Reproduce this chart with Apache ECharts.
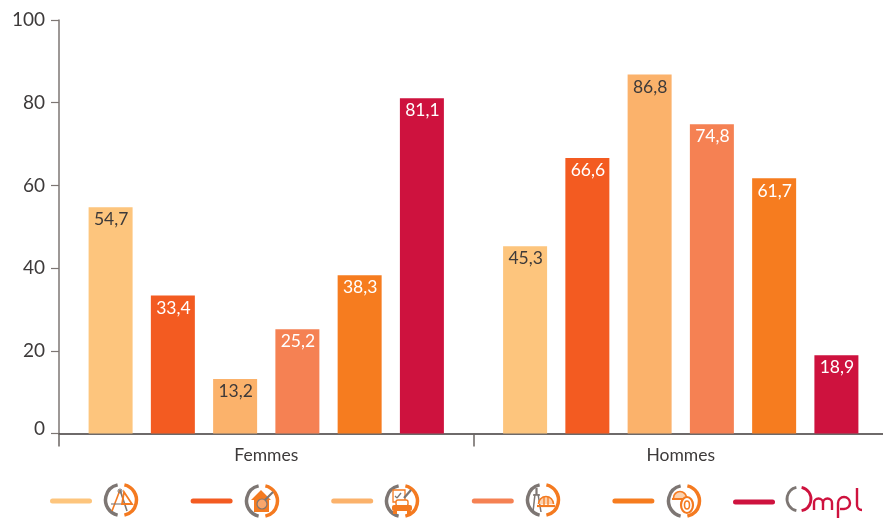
<!DOCTYPE html>
<html><head><meta charset="utf-8">
<style>html,body{margin:0;padding:0;background:#fff}#c{width:883px;height:519px}</style>
<script src="https://cdn.jsdelivr.net/npm/echarts@6/dist/echarts.min.js"></script>
</head><body><div id="c"></div>
<script>
const categories = ['Femmes', 'Hommes'];
const seriesNames = ['Cadres et ingénieurs', 'Banque et assurance', 'Commerce et automobile', 'Énergie et BTP', 'Industrie', 'OMPL'];
const s1 = [54.7, 45.3];
const s2 = [33.4, 66.6];
const s3 = [13.2, 86.8];
const s4 = [25.2, 74.8];
const s5 = [38.3, 61.7];
const s6 = [81.1, 18.9];
const allValues = [s1, s2, s3, s4, s5, s6];
const colors = ['#FDC57D', '#F35B21', '#FBB26B', '#F58153', '#F67C1F', '#CE123E'];
const labelColors = [['#3d3a3a', '#3d3a3a'], ['#fff', '#fff'], ['#3d3a3a', '#3d3a3a'], ['#fff', '#fff'], ['#fff', '#fff'], ['#fff', '#fff']];
const FONT = 'Lato';
const GREY = '#7d7673', OR = '#F47A20', RED = '#CE123E';
const PILL = 'path://M2.5 0H39.5A2.5 2.5 0 0 1 39.5 5H2.5A2.5 2.5 0 0 1 2.5 0Z';

function ring(cx, cy) {
  const r = 15.5;
  return [
    {type:'arc', shape:{cx, cy, r, startAngle:Math.PI*0.57, endAngle:Math.PI*1.43, clockwise:true}, style:{fill:null, stroke:GREY, lineWidth:3.5}},
    {type:'arc', shape:{cx, cy, r, startAngle:-Math.PI*0.43, endAngle:Math.PI*0.43, clockwise:true}, style:{fill:null, stroke:OR, lineWidth:3.5}}
  ];
}
function ln(x1, y1, x2, y2, c, w) {
  return {type:'line', shape:{x1, y1, x2, y2}, style:{stroke:c || OR, lineWidth:w || 1.3}};
}
function topArc(cx, cy, r, c, w) {
  return {type:'arc', shape:{cx, cy, r, startAngle:Math.PI, endAngle:Math.PI*2, clockwise:true}, style:{fill:null, stroke:c, lineWidth:w}};
}
function icon1(cx, cy) {
  return [...ring(cx,cy), ln(cx-1,cy-10,cx-9,cy+11,OR,1.6), ln(cx-1,cy-10,cx+6,cy+11,GREY,1.6), ln(cx-10,cy+4,cx+9,cy+4,GREY,1.1),
    {type:'circle', shape:{cx:cx-1, cy:cy-9, r:2}, style:{fill:null, stroke:GREY, lineWidth:1}},
    {type:'polygon', shape:{points:[[cx+3,cy-8],[cx+11,cy+4],[cx+1,cy+4]]}, style:{fill:null, stroke:OR, lineWidth:1.8}}];
}
function icon2(cx, cy) {
  return [...ring(cx,cy),
    {type:'polygon', shape:{points:[[cx-11,cy-1],[cx-1,cy-11],[cx+9,cy-1],[cx+7,cy-1],[cx+7,cy+11],[cx-8,cy+11],[cx-8,cy-1]]}, style:{fill:OR}},
    {type:'circle', shape:{cx:cx, cy:cy+3, r:5}, style:{fill:'#F9A66B', stroke:GREY, lineWidth:1.2}},
    ln(cx+3,cy-1,cx+11,cy-9,GREY,2.2)];
}
function icon3(cx, cy) {
  return [...ring(cx,cy),
    {type:'rect', shape:{x:cx-9, y:cy-11, width:12, height:12}, style:{fill:'#fff', stroke:OR, lineWidth:1.3}},
    ln(cx-7,cy-5,cx-5,cy-3,GREY,1.3), ln(cx-5,cy-3,cx-1,cy-8,GREY,1.3), ln(cx+2,cy-3,cx+9,cy-11,GREY,2.2),
    {type:'rect', shape:{x:cx-6, y:cy-1, width:12, height:6, r:2}, style:{fill:'#fff', stroke:OR, lineWidth:1.4}},
    {type:'rect', shape:{x:cx-10, y:cy+4, width:20, height:6, r:2}, style:{fill:OR}},
    {type:'rect', shape:{x:cx-9, y:cy+10, width:4, height:3}, style:{fill:OR}},
    {type:'rect', shape:{x:cx+5, y:cy+10, width:4, height:3}, style:{fill:OR}}];
}
function icon4(cx, cy) {
  return [...ring(cx,cy), ln(cx-8,cy-6,cx-10,cy+12,GREY,1.5), ln(cx-5,cy-6,cx-2,cy+12,GREY,1.5), ln(cx-6.5,cy-12,cx-6.5,cy-5,GREY,2.2),
    ln(cx-10,cy-5,cx-3,cy-5,GREY,1.5),
    {type:'arc', shape:{cx:cx+3, cy:cy+4, r:7.5, startAngle:Math.PI, endAngle:Math.PI*2, clockwise:true}, style:{fill:'#FBD2B0', stroke:OR, lineWidth:1.6}},
    ln(cx-6,cy+6,cx+12,cy+6,OR,2.2), ln(cx+1,cy-3,cx+1,cy+5,OR,1.3), ln(cx+5,cy-3,cx+5,cy+5,OR,1.3)];
}
function icon5(cx, cy) {
  return [...ring(cx,cy),
    {type:'arc', shape:{cx:cx-4, cy:cy-3, r:6.5, startAngle:Math.PI, endAngle:Math.PI*2, clockwise:true}, style:{fill:'#FBD2B0', stroke:OR, lineWidth:1.6}},
    ln(cx-12,cy-2,cx+4,cy-2,OR,2),
    {type:'ellipse', shape:{cx:cx+3, cy:cy+4, rx:6, ry:8}, style:{fill:'#fff', stroke:OR, lineWidth:2.2}},
    {type:'ellipse', shape:{cx:cx+3, cy:cy+4, rx:2.5, ry:4}, style:{fill:null, stroke:OR, lineWidth:1.6}}];
}
function logo() {
  const cx = 799, cy = 499, r = 12, w = 2.4;
  return [
    {type:'arc', shape:{cx, cy, r, startAngle:Math.PI*0.57, endAngle:Math.PI*1.43, clockwise:true}, style:{fill:null, stroke:GREY, lineWidth:2.8}},
    {type:'arc', shape:{cx, cy, r, startAngle:-Math.PI*0.43, endAngle:Math.PI*0.43, clockwise:true}, style:{fill:null, stroke:RED, lineWidth:2.8}},
    ln(814,510,814,503,RED,w), topArc(818.5,503,4.5,RED,w), ln(823,503,823,510,RED,w), topArc(827.5,503,4.5,RED,w), ln(832,503,832,510,RED,w),
    ln(838,518,838,503,RED,w),
    {type:'arc', shape:{cx:844, cy:503, r:6, startAngle:Math.PI, endAngle:Math.PI*2.5, clockwise:true}, style:{fill:null, stroke:RED, lineWidth:w}},
    ln(844,509,840,509,RED,w),
    ln(857,488,857,505,RED,w),
    {type:'arc', shape:{cx:862, cy:505, r:5, startAngle:Math.PI*0.5, endAngle:Math.PI, clockwise:true}, style:{fill:null, stroke:RED, lineWidth:w}}
  ];
}

const series = allValues.map((vals, i) => ({
  name: seriesNames[i], type: 'bar', barWidth: 44, barGap: '41.5%',
  itemStyle: {color: colors[i]},
  data: vals.map((v, j) => ({
    value: v,
    label: {show: true, position: 'insideTop', distance: 3.5, offset: [0.5, 0], color: labelColors[i][j],
      fontFamily: FONT, fontSize: 17.5, formatter: p => String(p.value).replace('.', ',')}
  }))
}));

function legend(names, left, top) {
  return {show: true, data: names, left, top, itemWidth: 42, itemHeight: 5, itemGap: 98.6,
    icon: PILL, formatter: () => '', textStyle: {fontSize: 1}, selectedMode: false, padding: 0};
}

const chart = echarts.init(document.getElementById('c'), null, {renderer: 'canvas'});
chart.setOption({
  animation: false,
  backgroundColor: '#fff',
  grid: {left: 59, width: 829, top: 20, bottom: 85.5, outerBoundsMode: 'none'},
  legend: [legend(seriesNames.slice(0, 5), 50, 498.5), legend(seriesNames.slice(5), 733, 499.5)],
  xAxis: {
    type: 'category', data: categories,
    axisLine: {lineStyle: {color: '#3f3a3a', width: 1.5}},
    axisTick: {show: true, length: 13, lineStyle: {color: '#6b6563', width: 1.5}},
    axisLabel: {color: '#3d3a3a', fontFamily: FONT, fontSize: 17.5, margin: 13}
  },
  yAxis: {
    type: 'value', min: 0, max: 100, interval: 20,
    axisLine: {show: true, lineStyle: {color: GREY, width: 1.5}},
    axisTick: {show: true, length: 8, lineStyle: {color: GREY, width: 1.2}},
    splitLine: {show: false},
    axisLabel: {color: '#3d3a3a', fontFamily: FONT, fontSize: 19, margin: 14,
      formatter: v => v === 0 ? '{z|0}' : String(v),
      rich: {z: {color: '#3d3a3a', fontFamily: FONT, fontSize: 19, padding: [0, 0, 10, 0]}}}
  },
  series,
  graphic: {elements: [...icon1(121,500), ...icon2(262,501), ...icon3(402,501), ...icon4(543,500), ...icon5(684,501), ...logo()]
    .map(e => Object.assign(e, {silent: true, z: 10}))}
});
</script></body></html>
